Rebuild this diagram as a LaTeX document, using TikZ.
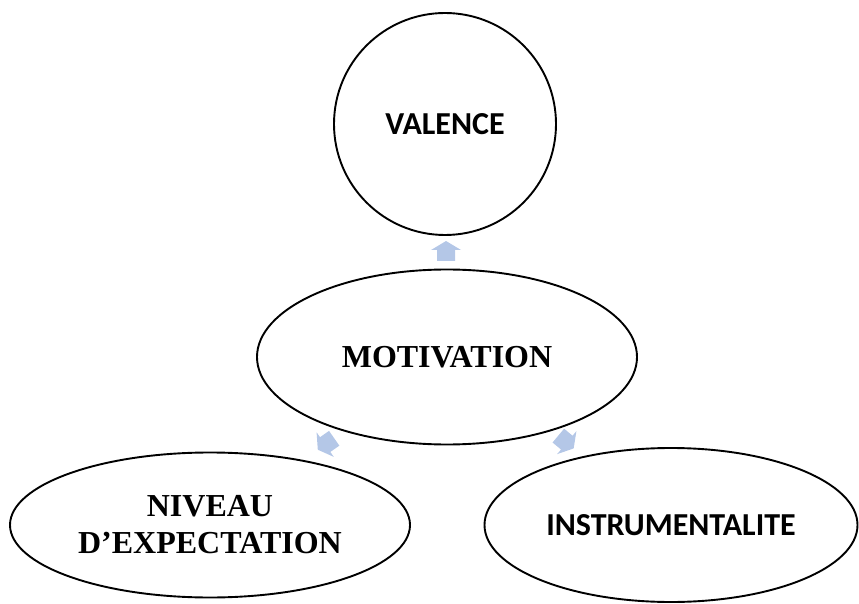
\documentclass[tikz,border=0pt]{standalone}
\usepackage{fontspec}
\setmainfont{Liberation Serif}
\newfontfamily\calibri{Carlito}
\usetikzlibrary{shapes.geometric}
\definecolor{flecheBleu}{RGB}{180,199,231}
\begin{document}
\begin{tikzpicture}
		[x=1pt,y=1pt,
		bulle/.style={draw,ellipse,line width=1.9pt,inner sep=0pt,align=center},
		fleche/.pic={\fill[flecheBleu] (-10,-9) -- (1,-9) -- (1,-15) -- (10,0)
			-- (1,15) -- (1,9) -- (-10,9) -- cycle;},
		serif/.style={font=\bfseries\fontsize{32}{37}\selectfont},
		sans/.style={font=\calibri\bfseries\fontsize{32}{37}\selectfont},
		]
		\useasboundingbox (0,0) rectangle (859,603);
		\node[bulle,circle,minimum size=222pt,sans] (valence) at (445,479) {VALENCE};
		\node[bulle,minimum width=380pt,minimum height=175pt,serif] (motiv) at (447,246) {MOTIVATION};
		\node[bulle,minimum width=400pt,minimum height=145pt,serif] (niveau) at (210,78) {NIVEAU\\D'EXPECTATION};
		\node[bulle,minimum width=373pt,minimum height=154pt,sans] (instr) at (671,78) {INSTRUMENTALITE};
		% fleches
		\pic[rotate=90] (f1) at (446,352) {fleche};
		\pic[rotate=215] (f2) at (326,159) {fleche};
		\pic[rotate=-40] (f3) at (566,161) {fleche};
	\end{tikzpicture}
\end{document}
